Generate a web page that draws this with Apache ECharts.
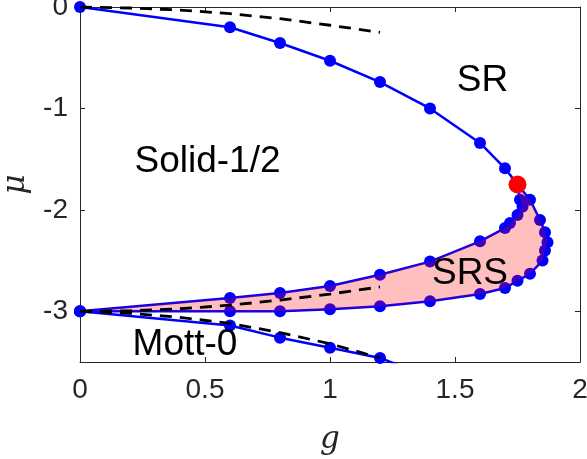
<!DOCTYPE html>
<html>
<head>
<meta charset="utf-8">
<script src="https://cdn.jsdelivr.net/npm/echarts@6/dist/echarts.min.js"></script>
<style>
  html, body { margin: 0; padding: 0; background: #fff; }
  #chart { width: 587px; height: 459px; }
</style>
</head>
<body>
<div id="chart"></div>
<script>
// SR boundary (Solid-1/2 -> SR), ends at the red critical point
const srG = [0, 0.6, 0.8, 1.0, 1.2, 1.4, 1.6, 1.7, 1.75];
const srMu = [0, -0.20, -0.355, -0.53, -0.74, -1.0, -1.34, -1.59, -1.75];

// SRS closed boundary: upper branch, cusp, right side, lower branch
const srsG = [0, 0.6, 0.8, 1.0, 1.2, 1.4, 1.6, 1.7, 1.72, 1.75, 1.77, 1.76, 1.75,
  1.80, 1.84, 1.86, 1.87, 1.86, 1.85, 1.80, 1.75, 1.70, 1.6, 1.4, 1.2, 1.0, 0.8, 0.6, 0];
const srsMu = [-3, -2.87, -2.82, -2.75, -2.64, -2.51, -2.31, -2.18, -2.13, -2.05, -1.97, -1.90, -1.75,
  -1.90, -2.10, -2.22, -2.32, -2.40, -2.50, -2.63, -2.70, -2.77, -2.83, -2.90, -2.95, -2.98, -3.0, -3.0, -3];

// Mott-0 boundary
const mottG = [0, 0.6, 0.8, 1.0, 1.2, 1.4];
const mottMu = [-3, -3.14, -3.26, -3.36, -3.46, -3.65];

// perturbative (dashed) curves
const dashG = [0, 0.2, 0.4, 0.6, 0.8, 1.0, 1.2];
const dashTop = [0, -0.01, -0.03, -0.065, -0.115, -0.18, -0.25];
const dashMid = [-3, -2.995, -2.975, -2.94, -2.89, -2.83, -2.76];
const dashLow = [-3, -3.02, -3.06, -3.12, -3.21, -3.32, -3.46];

// critical point
const critG = [1.75];
const critMu = [-1.75];

// phase labels
const phaseNames = ['SR', 'Solid-1/2', 'SRS', 'Mott-0'];
const phaseG = [1.61, 0.51, 1.56, 0.42];
const phaseMu = [-0.73, -1.53, -2.63, -3.33];

const yTicks = [0, -1, -2, -3];

const zip = (a, b) => a.map((v, i) => [v, b[i]]);
const srsPts = zip(srsG, srsMu);

const axisColor = '#262626';
const font = 'Liberation Sans, Arial, sans-serif';

const frameAxis = {
  axisLine: { show: true, onZero: false, lineStyle: { color: axisColor, width: 1 } },
  axisTick: { show: true, inside: true, length: 5, lineStyle: { color: axisColor } },
  splitLine: { show: false }
};

const chart = echarts.init(document.getElementById('chart'));
chart.setOption({
  animation: false,
  grid: { left: 80, right: 7, top: 7, bottom: 97, containLabel: false, outerBoundsMode: 'none' },
  xAxis: [{
    ...frameAxis,
    type: 'value', min: 0, max: 2, interval: 0.5,
    name: 'g', nameLocation: 'middle', nameGap: 62,
    nameTextStyle: { fontFamily: 'DejaVu Serif', fontStyle: 'italic', fontSize: 31, color: axisColor },
    axisLabel: { fontFamily: font, fontSize: 28, color: axisColor, margin: 14, formatter: v => String(v) }
  }, {
    ...frameAxis,
    type: 'value', min: 0, max: 2, interval: 0.5, position: 'top',
    axisLabel: { show: false }
  }],
  yAxis: [{
    ...frameAxis,
    type: 'value', min: -3.5, max: 0,
    name: 'μ', nameLocation: 'middle', nameGap: 49, nameRotate: 90,
    nameTextStyle: { fontFamily: 'DejaVu Serif', fontStyle: 'italic', fontSize: 31, color: axisColor },
    axisTick: { ...frameAxis.axisTick, customValues: yTicks },
    axisLabel: { fontFamily: font, fontSize: 28, color: axisColor, margin: 12, customValues: yTicks }
  }, {
    ...frameAxis,
    type: 'value', min: -3.5, max: 0, position: 'right',
    axisTick: { ...frameAxis.axisTick, customValues: yTicks },
    axisLabel: { show: false }
  }],
  series: [
    {
      type: 'line', data: zip(srG, srMu), z: 2,
      symbol: 'circle', symbolSize: 12,
      lineStyle: { color: '#0000ff', width: 2.5 }, itemStyle: { color: '#0000ff' }
    },
    {
      type: 'line', data: srsPts, z: 2,
      symbol: 'circle', symbolSize: 12,
      lineStyle: { color: '#0000ff', width: 2.5 }, itemStyle: { color: '#0000ff' }
    },
    {
      type: 'line', data: zip(mottG, mottMu), z: 2, clip: true,
      symbol: 'circle', symbolSize: 12,
      lineStyle: { color: '#0000ff', width: 2.5 }, itemStyle: { color: '#0000ff' }
    },
    {
      // shaded SRS region drawn over the blue markers
      type: 'custom', z: 3, data: srsPts,
      renderItem: (params, api) => {
        if (params.dataIndex !== 0) return null;
        return {
          type: 'polygon',
          shape: { points: srsPts.map(p => api.coord(p)) },
          style: { fill: 'rgba(255,0,0,0.25)', stroke: null }
        };
      }
    },
    ...[dashTop, dashMid, dashLow].map(d => ({
      type: 'line', data: zip(dashG, d), z: 4, symbol: 'none',
      lineStyle: { color: '#000', width: 2.8, type: [12, 8] }
    })),
    {
      type: 'scatter', data: zip(critG, critMu), z: 5,
      symbol: 'circle', symbolSize: 18, itemStyle: { color: '#ff0000', opacity: 1 }
    },
    {
      // phase names
      type: 'custom', z: 6,
      data: phaseNames.map((n, i) => [phaseG[i], phaseMu[i], i]),
      renderItem: (params, api) => {
        const p = api.coord([api.value(0), api.value(1)]);
        return {
          type: 'text', x: p[0], y: p[1],
          style: {
            text: phaseNames[api.value(2)], fill: '#000',
            font: '37px ' + font, align: 'center', verticalAlign: 'middle'
          }
        };
      }
    }
  ]
});
</script>
</body>
</html>
